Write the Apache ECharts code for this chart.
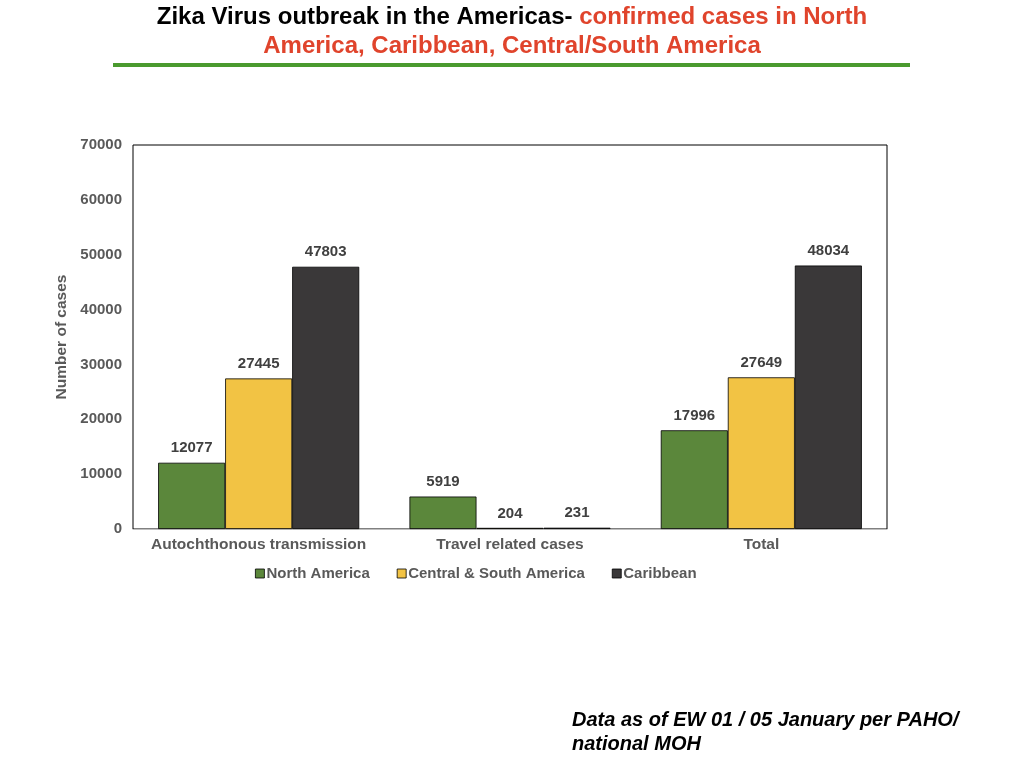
<!DOCTYPE html>
<html><head><meta charset="utf-8">
<script src="https://cdn.jsdelivr.net/npm/echarts@6/dist/echarts.min.js"></script>
<style>html,body{margin:0;padding:0;background:#fff}#c{width:1024px;height:768px}</style>
</head><body><div id="c"></div>
<script>
const categories = ['Autochthonous transmission', 'Travel related cases', 'Total'];
const northAmerica = [12077, 5919, 17996];
const centralSouthAmerica = [27445, 204, 27649];
const caribbean = [47803, 231, 48034];
const yTicks = {min: 0, max: 70000, interval: 10000};

const chart = echarts.init(document.getElementById('c'));
const font = 'Liberation Sans, Arial, Helvetica, sans-serif';
const lbl = {show: true, position: 'top', distance: 7, color: '#404040', fontWeight: 'bold', fontSize: 15, fontFamily: font};
function s(name, data, color) {
  return {name, type: 'bar', data, barGap: '0%', barCategoryGap: '20%',
    itemStyle: {color, borderColor: '#000', borderWidth: 0.8}, label: lbl};
}
chart.setOption({
  animation: false,
  textStyle: {fontFamily: font},
  title: {
    left: 'center', top: -2,
    text: '{b|Zika Virus outbreak in the Americas- }{r|confirmed cases in North}\n{r|America, Caribbean, Central/South America}',
    textStyle: {rich: {
      b: {color: '#000', fontWeight: 'bold', fontSize: 24, fontFamily: font, lineHeight: 29},
      r: {color: '#e0442c', fontWeight: 'bold', fontSize: 24, fontFamily: font, lineHeight: 29}
    }}
  },
  graphic: [
    {type: 'rect', shape: {x: 113, y: 63, width: 797, height: 4}, style: {fill: '#4a9a2e'}},
    {type: 'text', left: 572, top: 708, style: {text: 'Data as of EW 01 / 05 January per PAHO/\nnational MOH', font: 'italic bold 20px ' + font, fill: '#000', lineHeight: 24}}
  ],
  legend: {
    left: 250, top: 561, itemWidth: 9, itemHeight: 9, itemGap: 27, icon: 'rect',
    textStyle: {color: '#595959', fontWeight: 'bold', fontSize: 15, padding: [0, 0, 0, -3]},
    itemStyle: {borderColor: '#000', borderWidth: 0.8},
    data: ['North America', 'Central & South America', 'Caribbean']
  },
  grid: {left: 133, right: 137, top: 145, bottom: 239, show: true, borderColor: '#000', borderWidth: 1},
  xAxis: {
    type: 'category', data: categories,
    axisLine: {lineStyle: {color: '#bfbfbf', width: 1}}, axisTick: {show: false},
    axisLabel: {color: '#595959', fontWeight: 'bold', fontSize: 15.5, margin: 8, interval: 0}
  },
  yAxis: {
    type: 'value', min: yTicks.min, max: yTicks.max, interval: yTicks.interval,
    name: 'Number of cases', nameLocation: 'middle', nameGap: 58,
    nameTextStyle: {color: '#595959', fontWeight: 'bold', fontSize: 15.5},
    splitLine: {show: false}, axisLine: {show: false}, axisTick: {show: false},
    axisLabel: {color: '#595959', fontWeight: 'bold', fontSize: 15, margin: 11, formatter: v => String(v)}
  },
  series: [
    s('North America', northAmerica, '#5b873b'),
    s('Central & South America', centralSouthAmerica, '#f2c344'),
    s('Caribbean', caribbean, '#3a3839')
  ]
});
</script></body></html>
